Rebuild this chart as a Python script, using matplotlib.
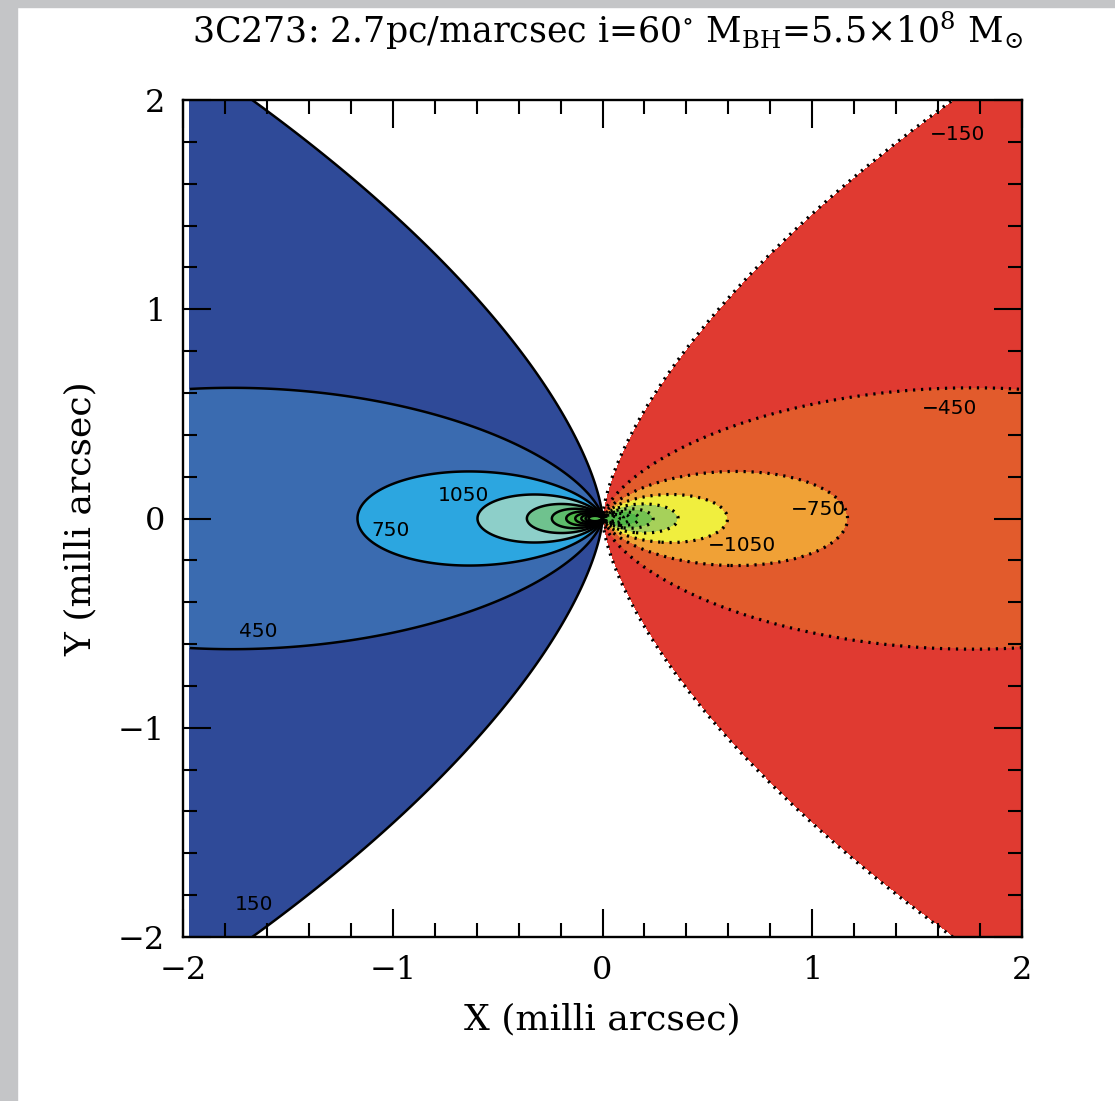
import numpy as np
import matplotlib
matplotlib.use("Agg")
import matplotlib.pyplot as plt
from matplotlib.patches import Rectangle
from matplotlib.ticker import MultipleLocator

# model parameters (from the title)
mbh = 5.5e8            # solar masses
pc_per_mas = 2.7
incl_deg = 60.0
G = 4.301e-3           # pc Msun^-1 (km/s)^2

# contour levels (km/s) and band colours
pos_levels = [150, 450, 750, 1050, 1350, 1650, 1950]
neg_levels = [-1950, -1650, -1350, -1050, -750, -450, -150]
inner_levels = [2250, 2550, 2850, 3150]   # lines only, near the centre
pos_colors = ["#2f4a98", "#3a6bb0", "#2ca6e0", "#8dcfc9", "#6fc28e", "#5dbc6c", "#4fb84a"]
neg_colors = ["#52b848", "#74c150", "#a6d15a", "#f0ee3e", "#f0a136", "#e25b2c", "#e03a31"]

label_text = ["150", "450", "750", "1050", "\u2212150", "\u2212450", "\u2212750", "\u22121050"]
label_x = [-1.66, -1.64, -1.01, -0.665, 1.695, 1.657, 1.03, 0.665]
label_y = [-1.847, -0.542, -0.055, 0.112, 1.833, 0.528, 0.041, -0.131]

plt.rcParams["font.family"] = ["DejaVu Serif"]
plt.rcParams["mathtext.fontset"] = "dejavuserif"

# velocity field
inc = np.radians(incl_deg)
v1 = np.sqrt(G * mbh / pc_per_mas)       # circular speed at 1 mas
xs = np.linspace(-1.967, 2.0, 1400)
ys = np.linspace(-2.0, 2.0, 1400)
X, Y = np.meshgrid(xs, ys)
R = np.sqrt(X**2 + (Y / np.cos(inc))**2)
R[R < 1e-4] = 1e-4
V = -v1 * np.sin(inc) * X / R**1.5

fig = plt.figure(figsize=(11.15, 11.01), dpi=100)
fig.patches.append(Rectangle((0, 0), 17 / 1115, 1, transform=fig.transFigure,
                             color="#c4c5c7", zorder=0))
fig.patches.append(Rectangle((0, 1 - 7 / 1101), 1, 7 / 1101, transform=fig.transFigure,
                             color="#c4c5c7", zorder=0))

ax = fig.add_axes([183 / 1115, 1 - 937 / 1101, 839 / 1115, 837 / 1101])

big = 1e7
fill_levels = [-big] + neg_levels + pos_levels + [big]
fill_colors = neg_colors + ["white"] + pos_colors
ax.contourf(X, Y, V, levels=fill_levels, colors=fill_colors)
ax.contour(X, Y, V, levels=pos_levels + inner_levels, colors="k", linewidths=1.8)
ax.contour(X, Y, V, levels=[-v for v in inner_levels[::-1]] + neg_levels, colors="k",
           linewidths=2.3, linestyles=[(0, (0.7, 1.8))])

for t, x, y in zip(label_text, label_x, label_y):
    ax.text(x, y, t, ha="center", va="center", fontsize=14.5, family="DejaVu Sans")

ax.set_xlim(-2, 2)
ax.set_ylim(-2, 2)
ax.set_xticks([-2, -1, 0, 1, 2])
ax.set_yticks([-2, -1, 0, 1, 2])
ax.xaxis.set_minor_locator(MultipleLocator(0.2))
ax.yaxis.set_minor_locator(MultipleLocator(0.2))
ax.tick_params(which="both", direction="in", top=True, right=True, width=1.5,
               labelsize=23)
ax.tick_params(which="major", length=20, pad=13)
ax.tick_params(which="minor", length=10)
for s in ax.spines.values():
    s.set_linewidth(1.7)

ax.set_xlabel("X (milli arcsec)", fontsize=26, labelpad=12)
ax.set_ylabel("Y (milli arcsec)", fontsize=26, labelpad=14)
fig.text(607 / 1115, 1 - 31 / 1101,
         r"3C273: 2.7pc/marcsec i=60$^{\circ}$ M$_{\rm BH}$=5.5$\times$10$^{8}$ M$_{\odot}$",
         ha="center", va="center", fontsize=25)

fig.savefig("out.png", dpi=100)
